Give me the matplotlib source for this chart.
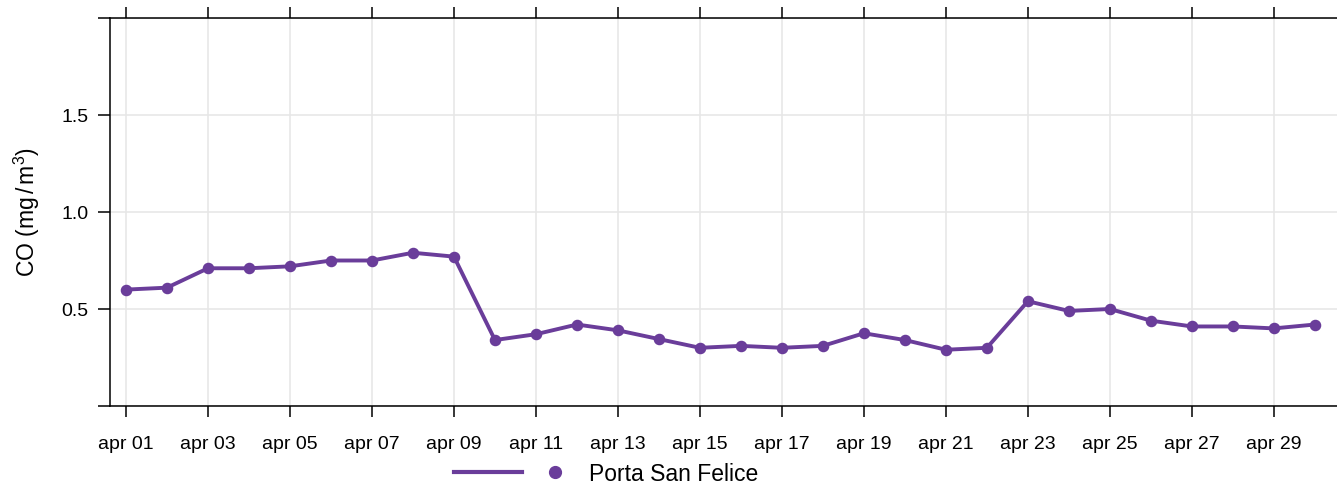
import numpy as np
import matplotlib
matplotlib.use("Agg")
import matplotlib.pyplot as plt
from matplotlib.lines import Line2D
from matplotlib.legend_handler import HandlerTuple
import datetime as dt

plt.rcParams['font.family'] = ['Liberation Sans', 'DejaVu Sans']
plt.rcParams['mathtext.fontset'] = 'custom'
plt.rcParams['mathtext.rm'] = 'Liberation Sans'
plt.rcParams['mathtext.it'] = 'Liberation Sans:italic'

days = list(range(1, 31))
co_values = [0.60, 0.61, 0.71, 0.71, 0.72, 0.75, 0.75, 0.79, 0.77, 0.34,
             0.37, 0.42, 0.39, 0.345, 0.30, 0.31, 0.30, 0.31, 0.375, 0.34,
             0.29, 0.30, 0.54, 0.49, 0.50, 0.44, 0.41, 0.41, 0.40, 0.42]
series_name = "Porta San Felice"
y_label = r"CO (mg$\,$/$\,$m$^3$)"
y_ticks = [0.0, 0.5, 1.0, 1.5, 2.0]
y_tick_labels = ["", "0.5", "1.0", "1.5", ""]

color = "#6a3d9a"
dates = [dt.datetime(2020, 4, d) for d in days]
tick_dates = [dt.datetime(2020, 4, d) for d in range(1, 31, 2)]

fig = plt.figure(figsize=(13.37, 4.86), dpi=100)
ax = fig.add_axes([110/1337, 1-406/486, 1-110/1337, (406-18)/486])

ax.plot(dates, co_values, color=color, lw=2.8, marker='o', ms=7.3,
        zorder=3, clip_on=False)

ax.set_xlim(dt.datetime(2020, 4, 1) - dt.timedelta(days=0.39),
            dt.datetime(2020, 4, 30) + dt.timedelta(days=0.54))
ax.set_ylim(0, 2.0)
ax.set_xticks(tick_dates)
ax.set_xticklabels([d.strftime("apr %d") for d in tick_dates])
ax.set_yticks(y_ticks)
ax.set_yticklabels(y_tick_labels)

ax.grid(True, color="#e6e6e6", lw=1.1, zorder=0)
ax.set_axisbelow(True)
for s in ['left', 'bottom', 'top']:
    ax.spines[s].set_linewidth(1.1)
    ax.spines[s].set_color('black')
ax.spines['right'].set_visible(False)
ax.tick_params(axis='x', which='both', top=True, bottom=True, length=8,
               width=1.1, labelsize=14, pad=13.5, direction='out')
ax.tick_params(axis='y', length=8.5, width=1.1, labelsize=14, pad=7)
ax.set_ylabel(y_label, fontsize=16.5, labelpad=14)

h_line = Line2D([], [], color=color, lw=3.0)
h_mark = Line2D([], [], color=color, marker='o', ms=8.5, lw=0)
fig.legend([(h_line, h_mark)], [series_name],
           handler_map={tuple: HandlerTuple(ndivide=2, pad=0.0)},
           loc='center left', bbox_to_anchor=(454/1337, 1-474/486),
           frameon=False, fontsize=16.5, handlelength=5.9, handletextpad=0.0,
           borderaxespad=0, borderpad=0)

fig.savefig("out.png", dpi=100)
